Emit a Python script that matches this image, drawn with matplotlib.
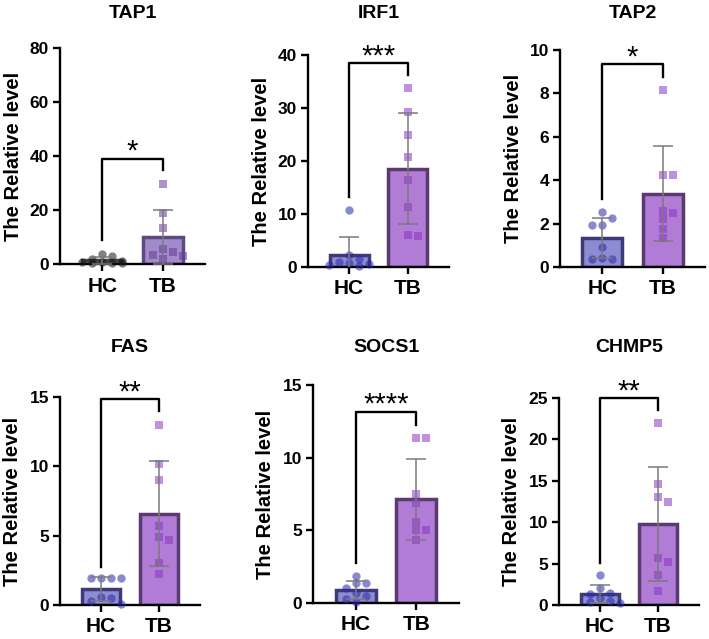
import numpy as np
import matplotlib
matplotlib.use("Agg")
import matplotlib.pyplot as plt

plt.rcParams["font.family"] = ["Liberation Sans", "DejaVu Sans"]
plt.rcParams["font.weight"] = "bold"

genes = ["TAP1", "IRF1", "TAP2", "FAS", "SOCS1", "CHMP5"]
groups = ["HC", "TB"]

hc_tap1 = [3.7, 3.0, 2.0, 1.2, 0.8, 0.5, 0.4, 0.6, 0.3]
tb_tap1 = [29.8, 18.8, 13.5, 5.5, 4.5, 3.3, 2.0, 3.0]
hc_irf1 = [10.8, 2.3, 1.5, 1.0, 0.5, 0.3, 0.8, 0.2]
tb_irf1 = [33.7, 29.2, 24.9, 20.8, 16.4, 11.3, 5.8, 6.1]
hc_tap2 = [2.55, 2.25, 1.95, 1.95, 0.92, 0.37, 0.4, 0.37]
tb_tap2 = [8.15, 4.25, 4.25, 2.6, 2.5, 2.2, 1.75, 1.35]
hc_fas = [1.95, 1.95, 1.95, 1.95, 0.5, 0.3, 0.1, 0.6]
tb_fas = [13.0, 10.2, 9.05, 5.7, 4.7, 4.87, 3.0, 2.2]
hc_socs1 = [1.88, 1.4, 1.35, 1.0, 0.7, 0.5, 0.25, 0.1]
tb_socs1 = [11.33, 11.33, 7.5, 6.9, 5.6, 5.04, 5.0, 4.35]
hc_chmp5 = [3.6, 2.0, 1.5, 1.3, 0.8, 0.5, 0.4, 0.3]
tb_chmp5 = [22.0, 14.6, 13.0, 12.4, 5.2, 5.73, 3.6, 1.73]

hc_values = [hc_tap1, hc_irf1, hc_tap2, hc_fas, hc_socs1, hc_chmp5]
tb_values = [tb_tap1, tb_irf1, tb_tap2, tb_fas, tb_socs1, tb_chmp5]
significance = ["*", "***", "*", "**", "****", "**"]
y_max = [80, 40, 10, 15, 15, 25]
y_step = [20, 10, 2, 5, 5, 5]
# bracket: top, left leg end, right leg end
brackets = [(39, 9, 35), (38.4, 13.2, 36.2), (9.34, 3.15, 8.74),
            (14.83, 2.76, 13.97), (13.17, 2.75, 12.25), (24.96, 5.04, 23.5)]

# axes boxes in pixels: left, right, top, bottom
boxes = [(60, 205, 48, 264), (308, 449, 55, 267), (560, 705, 50, 267),
         (60, 200, 397, 605), (313, 459, 385, 603), (559, 699, 398, 605)]
title_y = [13, 13, 13, 348, 348, 348]

W, H = 709, 639
fig = plt.figure(figsize=(W / 100, H / 100), dpi=100)

default_style = dict(hc_fill="#8c8cd2", hc_edge="#3e3a78", hc_pt=(0.16, 0.16, 0.67),
                     tb_fill="#b07cd6", tb_edge="#5a3a70", tb_pt=(0.55, 0.2, 0.78))
tap1_style = dict(hc_fill="#8a8a8a", hc_edge="#444444", hc_pt=(0.1, 0.1, 0.1),
                  tb_fill="#a08cc8", tb_edge="#5e4a80", tb_pt=(0.42, 0.22, 0.62))


def swarm(vals, x0, px_x, px_y, wx=10.0, wy=7.0, step=10.0, kmax=2):
    # scatter-dot layout: stack at the centre, spread sideways on overlap
    order = np.argsort(vals)[::-1]
    placed = []
    xs = np.zeros(len(vals))
    cands = [0.0]
    for k in range(1, kmax + 1):
        cands += [k * step, -k * step]
    for i in order:
        y = vals[i] * px_y
        best, best_d = 0.0, -1.0
        for dx in cands:
            d = min([((dx - px) / wx) ** 2 + ((y - py) / wy) ** 2 for px, py in placed] or [9])
            if d >= 1:
                best = dx
                break
            if d > best_d:
                best, best_d = dx, d
        placed.append((best, y))
        xs[i] = x0 + best / px_x
    return xs


for i, gene in enumerate(genes):
    l, r, t, b = boxes[i]
    ax = fig.add_axes([l / W, 1 - b / H, (r - l) / W, (b - t) / H])
    st = tap1_style if i == 0 else default_style
    ax.set_xlim(-0.7, 1.7)
    ax.set_ylim(0, y_max[i])
    px_x = (r - l) / 2.4
    px_y = (b - t) / y_max[i]

    for j, vals in enumerate([hc_values[i], tb_values[i]]):
        vals = np.array(vals)
        mean, sd = vals.mean(), vals.std(ddof=1)
        fill = st["hc_fill"] if j == 0 else st["tb_fill"]
        edge = st["hc_edge"] if j == 0 else st["tb_edge"]
        ax.bar(j, mean, width=0.66, color=fill, edgecolor=edge, linewidth=2.5, zorder=2)
        xs = swarm(vals, j, px_x, px_y)
        ax.scatter(xs, vals, s=36, marker="o" if j == 0 else "s",
                   color=st["hc_pt"] if j == 0 else st["tb_pt"], alpha=0.55,
                   linewidths=0, zorder=3, clip_on=False)
        ax.errorbar(j, mean, yerr=sd, color="#7a7a7a", lw=1.1, capsize=7,
                    capthick=1.1, zorder=4)

    top, lft, rgt = brackets[i]
    ax.plot([0, 0, 1, 1], [lft, top, top, rgt], color="black", lw=1.7,
            zorder=5, clip_on=False)
    ax.annotate(significance[i], (0.5, top), xytext=(0, 5), textcoords="offset points",
                ha="center", va="center", fontsize=21, fontweight="normal",
                annotation_clip=False)

    ax.spines["top"].set_visible(False)
    ax.spines["right"].set_visible(False)
    ax.spines["left"].set_linewidth(1.7)
    ax.spines["bottom"].set_linewidth(1.7)
    ax.set_yticks(np.arange(0, y_max[i] + 0.1, y_step[i]))
    ax.set_xticks([0, 1])
    ax.set_xticklabels(groups, fontsize=15, fontweight="bold")
    ax.tick_params(axis="y", length=5, width=1.7, labelsize=12.5, pad=3)
    ax.tick_params(axis="x", length=5, width=1.7, pad=4)
    for lab in ax.get_yticklabels():
        lab.set_fontweight("bold")
    ax.set_ylabel("The Relative level", fontsize=14.5, fontweight="bold", labelpad=5)
    fig.text((l + r) / 2 / W, 1 - title_y[i] / H, gene, ha="center", va="center",
             fontsize=14, fontweight="bold")

fig.savefig("out.png", dpi=100)
